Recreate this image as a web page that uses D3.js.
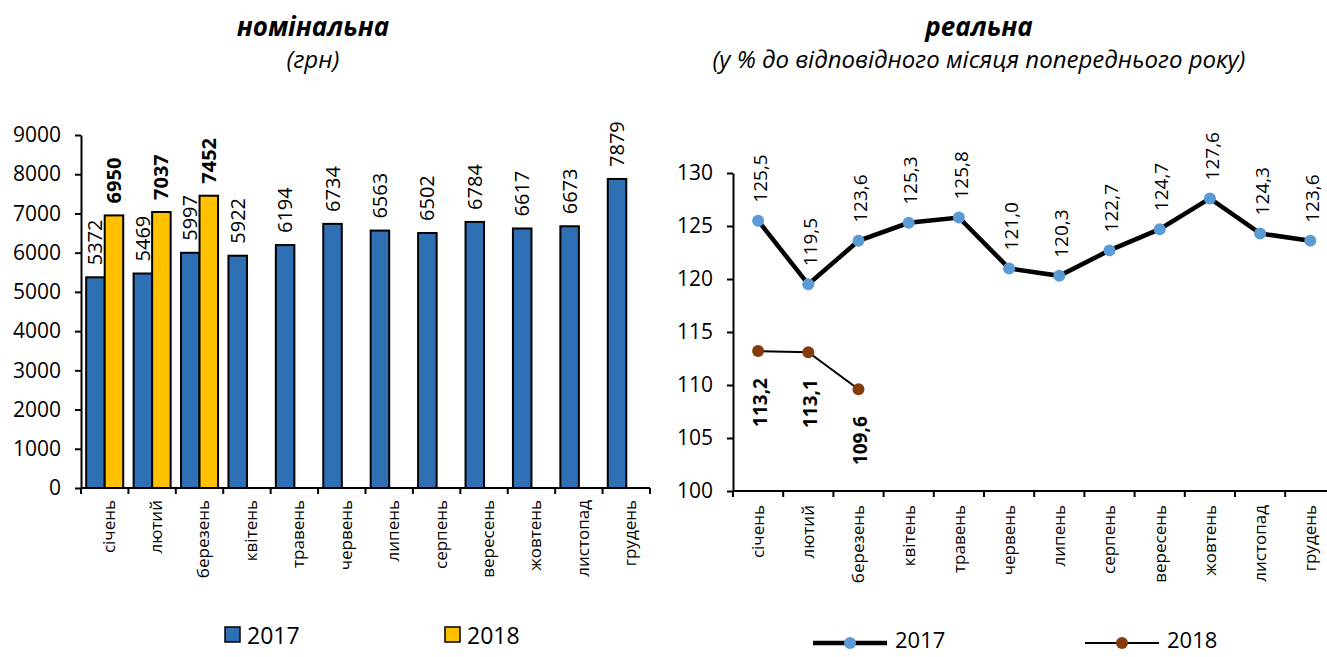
<!DOCTYPE html>
<html>
<head>
<meta charset="utf-8">
<script src="https://cdnjs.cloudflare.com/ajax/libs/d3/7.8.5/d3.min.js"></script>
<style>
    body { margin: 0; background: #fff; }
    text { font-family: "Open Sans", sans-serif; fill: #000; }
</style>
</head>
<body>
<div id="chart"></div>
<script>
// data
var months = ["січень", "лютий", "березень", "квітень", "травень", "червень",
    "липень", "серпень", "вересень", "жовтень", "листопад", "грудень"];
var years = ["2017", "2018"];
var nominal2017 = [5372, 5469, 5997, 5922, 6194, 6734, 6563, 6502, 6784, 6617, 6673, 7879];
var nominal2018 = [6950, 7037, 7452];
var real2017 = [125.5, 119.5, 123.6, 125.3, 125.8, 121.0, 120.3, 122.7, 124.7, 127.6, 124.3, 123.6];
var real2018 = [113.2, 113.1, 109.6];
var nominalTicks = [0, 1000, 2000, 3000, 4000, 5000, 6000, 7000, 8000, 9000];
var realTicks = [100, 105, 110, 115, 120, 125, 130];

var barColors = { "2017": "#2F70B5", "2018": "#FFC000" };
var markerColors = { "2017": "#5B9BD5", "2018": "#843C0C" };

var svg = d3.select("#chart")
    .append("svg")
    .attr("width", 1327)
    .attr("height", 657);

var fmt = function (v) { return d3.format(".1f")(v).replace(".", ","); };

// titles
function title(cx, main, sub) {
    svg.append("text")
        .attr("x", cx).attr("y", 36)
        .attr("text-anchor", "middle")
        .style("font-size", "26px")
        .style("font-weight", "bold")
        .style("font-style", "italic")
        .text(main);
    svg.append("text")
        .attr("x", cx).attr("y", 68)
        .attr("text-anchor", "middle")
        .style("font-size", "24px")
        .style("font-style", "italic")
        .text(sub);
}
title(313, "номінальна", "(грн)");
title(979, "реальна", "(у % до відповідного місяця попереднього року)");

// ============ left chart: nominal wages (bars) ============
var left = { x0: 81, x1: 650, top: 135, bottom: 488 };

var xBand = d3.scaleBand()
    .domain(months)
    .range([left.x0, left.x1]);

var xSub = d3.scaleBand()
    .domain(years)
    .range([0, xBand.bandwidth()])
    .paddingOuter(0.28);

var yNom = d3.scaleLinear()
    .domain([0, 9000])
    .range([left.bottom, left.top]);

var leftG = svg.append("g");

// y axis
var yAxisL = leftG.append("g")
    .attr("transform", `translate(${left.x0},0)`)
    .call(d3.axisLeft(yNom).tickValues(nominalTicks).tickFormat(d3.format("d"))
        .tickSize(6).tickSizeOuter(0).tickPadding(14));
yAxisL.selectAll("text").style("font-size", "21px").style("font-family", "Open Sans");
yAxisL.selectAll("line, path").attr("stroke", "#000").attr("stroke-width", 2);

// bars
var barData = [];
months.forEach(function (m, i) {
    barData.push({ month: m, year: "2017", value: nominal2017[i] });
    if (i < nominal2018.length) barData.push({ month: m, year: "2018", value: nominal2018[i] });
});

leftG.append("g")
    .selectAll("rect")
    .data(barData)
    .enter()
    .append("rect")
    .attr("x", d => xBand(d.month) + xSub(d.year))
    .attr("y", d => yNom(d.value))
    .attr("width", xSub.bandwidth())
    .attr("height", d => yNom(0) - yNom(d.value))
    .attr("fill", d => barColors[d.year])
    .attr("stroke", "#000")
    .attr("stroke-width", 2);

// bar labels
leftG.append("g")
    .selectAll("text")
    .data(barData)
    .enter()
    .append("text")
    .attr("transform", d => `translate(${xBand(d.month) + xSub(d.year) + xSub.bandwidth() / 2},${yNom(d.value) - 12}) rotate(-90)`)
    .attr("dy", "0.35em")
    .style("font-size", "20px")
    .style("font-weight", d => d.year === "2018" ? "bold" : "normal")
    .text(d => d.value);

// x axis
var xAxisL = leftG.append("g");
xAxisL.append("line")
    .attr("x1", left.x0).attr("x2", left.x1)
    .attr("y1", left.bottom).attr("y2", left.bottom)
    .attr("stroke", "#000").attr("stroke-width", 2);
xAxisL.selectAll(".tick")
    .data(months.concat(["end"]))
    .enter()
    .append("line")
    .attr("x1", d => d === "end" ? left.x1 : xBand(d))
    .attr("x2", d => d === "end" ? left.x1 : xBand(d))
    .attr("y1", left.bottom).attr("y2", left.bottom + 6)
    .attr("stroke", "#000").attr("stroke-width", 2);
xAxisL.selectAll("text")
    .data(months)
    .enter()
    .append("text")
    .attr("transform", d => `translate(${xBand(d) + xBand.bandwidth() / 2 + 4},${left.bottom + 12}) rotate(-90)`)
    .attr("dy", "0.35em")
    .attr("text-anchor", "end")
    .style("font-size", "17px")
    .text(d => d);

// legend
years.forEach(function (yr, i) {
    var lx = 225 + i * 220;
    leftG.append("rect")
        .attr("x", lx).attr("y", 627)
        .attr("width", 15).attr("height", 15)
        .attr("fill", barColors[yr])
        .attr("stroke", "#000").attr("stroke-width", 1.5);
    leftG.append("text")
        .attr("x", lx + 22).attr("y", 644)
        .style("font-size", "23px")
        .text(yr);
});

// ============ right chart: real wages (lines) ============
var right = { x0: 733, top: 173, bottom: 491 };
var step = 50.2;

var xPt = d3.scaleBand()
    .domain(months)
    .range([right.x0, right.x0 + step * months.length]);

var yReal = d3.scaleLinear()
    .domain([100, 130])
    .range([right.bottom, right.top]);

var rightG = svg.append("g");

var yAxisR = rightG.append("g")
    .attr("transform", `translate(${right.x0},0)`)
    .call(d3.axisLeft(yReal).tickValues(realTicks).tickSize(6).tickSizeOuter(0).tickPadding(14));
yAxisR.selectAll("text").style("font-size", "21px").style("font-family", "Open Sans");
yAxisR.selectAll("line, path").attr("stroke", "#000").attr("stroke-width", 2);

var xAxisR = rightG.append("g");
xAxisR.append("line")
    .attr("x1", right.x0).attr("x2", 1327)
    .attr("y1", right.bottom).attr("y2", right.bottom)
    .attr("stroke", "#000").attr("stroke-width", 2);
xAxisR.selectAll(".tick")
    .data(months)
    .enter()
    .append("line")
    .attr("x1", d => xPt(d)).attr("x2", d => xPt(d))
    .attr("y1", right.bottom).attr("y2", right.bottom + 6)
    .attr("stroke", "#000").attr("stroke-width", 2);
xAxisR.selectAll("text")
    .data(months)
    .enter()
    .append("text")
    .attr("transform", d => `translate(${xPt(d) + xPt.bandwidth() / 2},${right.bottom + 14}) rotate(-90)`)
    .attr("dy", "0.35em")
    .attr("text-anchor", "end")
    .style("font-size", "17px")
    .text(d => d);

var cx = d => xPt(months[d.i]) + xPt.bandwidth() / 2;
var line = d3.line().x(cx).y(d => yReal(d.v));

var pts2017 = real2017.map((v, i) => ({ i: i, v: v }));
var pts2018 = real2018.map((v, i) => ({ i: i, v: v }));

rightG.append("path")
    .datum(pts2017)
    .attr("d", line)
    .attr("fill", "none")
    .attr("stroke", "#000")
    .attr("stroke-width", 4.5);

rightG.append("path")
    .datum(pts2018)
    .attr("d", line)
    .attr("fill", "none")
    .attr("stroke", "#000")
    .attr("stroke-width", 2);

rightG.append("g").selectAll("circle")
    .data(pts2017).enter().append("circle")
    .attr("cx", cx).attr("cy", d => yReal(d.v))
    .attr("r", 6)
    .attr("fill", markerColors["2017"]);

rightG.append("g").selectAll("circle")
    .data(pts2018).enter().append("circle")
    .attr("cx", cx).attr("cy", d => yReal(d.v))
    .attr("r", 6)
    .attr("fill", markerColors["2018"]);

// point labels
rightG.append("g").selectAll("text")
    .data(pts2017).enter().append("text")
    .attr("transform", d => `translate(${cx(d) + 2},${yReal(d.v) - 18}) rotate(-90)`)
    .attr("dy", "0.35em")
    .style("font-size", "19px")
    .text(d => fmt(d.v));

rightG.append("g").selectAll("text")
    .data(pts2018).enter().append("text")
    .attr("transform", d => `translate(${cx(d) + 2},${yReal(d.v) + 27}) rotate(-90)`)
    .attr("dy", "0.35em")
    .attr("text-anchor", "end")
    .style("font-size", "19px")
    .style("font-weight", "bold")
    .text(d => fmt(d.v));

// legend
var legR = [{ yr: "2017", x: 813, w: 4.5 }, { yr: "2018", x: 1085, w: 2 }];
legR.forEach(function (l) {
    rightG.append("line")
        .attr("x1", l.x).attr("x2", l.x + 74)
        .attr("y1", 643).attr("y2", 643)
        .attr("stroke", "#000").attr("stroke-width", l.w);
    rightG.append("circle")
        .attr("cx", l.x + 37).attr("cy", 643)
        .attr("r", 6)
        .attr("fill", markerColors[l.yr]);
    rightG.append("text")
        .attr("x", l.x + 82).attr("y", 648)
        .style("font-size", "22px")
        .text(l.yr);
});
</script>
</body>
</html>
